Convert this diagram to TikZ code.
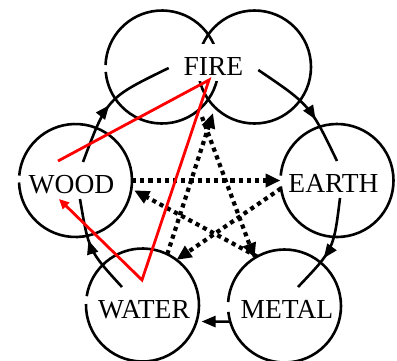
\documentclass[tikz,border=0pt]{standalone}
\usepackage{fontspec}
\setmainfont{Liberation Serif}
\usetikzlibrary{arrows.meta,decorations.markings}
\begin{document}
\tikzset{
  circ/.style={line width=2.6pt},
  cnode/.style={circle, minimum size=113pt, inner sep=0pt, outer sep=0pt, draw=none},
  lbl/.style={font=\fontsize{27.5}{33}\selectfont, anchor=base, text height=31pt, text depth=6pt, inner xsep=15pt, inner ysep=0pt, outer sep=0pt},
  flow/.style={line width=2.6pt},
  midarr/.style={decoration={markings, mark=at position #1 with {\arrow{Triangle[length=14pt,width=11pt]}}}, postaction={decorate}},
  endarr/.style={-{Triangle[length=14pt,width=11pt]}},
  ctrl/.style={line width=4.2pt, dash pattern=on 4.2pt off 4pt, -{Triangle[length=15pt,width=13pt]}},
  redarr/.style={draw=red, line width=2.8pt, -{Triangle[length=10pt,width=9pt]}},
}
\begin{tikzpicture}[x=1pt,y=1pt]
\useasboundingbox (0,0) rectangle (397,-360);
% circle nodes (geometry only)
\node[cnode] (cFIREa) at (162,-67) {};
\node[cnode] (cFIREb) at (254.5,-67) {};
\node[cnode] (cWOOD) at (75.5,-180.5) {};
\node[cnode] (cEARTH) at (337,-180.5) {};
\node[cnode] (cWATER) at (142.5,-305) {};
\node[cnode] (cMETAL) at (284.5,-306) {};
% circles with small gaps at the left
\draw[circ] ([shift={(185:56.5)}]cFIREa.center) arc[start angle=185, end angle=538, radius=56.5];
\draw[circ] (cFIREb.center) circle[radius=56.5];
\draw[circ] ([shift={(182:56.5)}]cWOOD.center) arc[start angle=182, end angle=535, radius=56.5];
\draw[circ] ([shift={(186:56.5)}]cEARTH.center) arc[start angle=186, end angle=535, radius=56.5];
\draw[circ] ([shift={(179:56.5)}]cWATER.center) arc[start angle=179, end angle=531, radius=56.5];
\draw[circ] ([shift={(186:56.5)}]cMETAL.center) arc[start angle=186, end angle=536, radius=56.5];
% labels
\node[lbl, fill=white] (FIRE) at (213.5,-75) {FIRE};
\node[lbl] (WOOD) at (71.5,-193) {WOOD};
\node[lbl] (EARTH) at (333.5,-192) {EARTH};
\node[lbl] (WATER) at (144,-318) {WATER};
\node[lbl] (METAL) at (287,-318) {METAL};
% generating cycle (solid)
\draw[flow, midarr=0.47] ([xshift=11.5pt]WOOD.north) .. controls (107,-98) .. ([yshift=-5.5pt]FIRE.west);
\draw[flow, midarr=0.62] ([yshift=-7.5pt]FIRE.east) .. controls (310,-105) .. ([xshift=3.5pt]EARTH.north);
\draw[flow, midarr=0.62] ([xshift=6.5pt]EARTH.south) .. controls (333.7,-249.5) .. ([xshift=11pt]METAL.north);
\draw[flow, endarr] (cMETAL.196) -- ([xshift=5pt]cWATER.-17);
\draw[flow, midarr=0.58] ([xshift=-22pt]WATER.north) .. controls (88.7,-250.6) .. ([xshift=8.5pt]WOOD.south);
% controlling cycle (dotted)
\coordinate (fb1) at (213,-113);
\coordinate (fb2) at (202,-117);
\draw[ctrl] (cWOOD.0) -- (cEARTH.180);
\draw[ctrl] (cEARTH.188) -- (cWATER.53);
\draw[ctrl] (cWATER.64) -- (fb1);
\draw[ctrl] (fb2) -- (cMETAL.122);
\draw[ctrl] (cMETAL.119) -- ([xshift=3pt]cWOOD.-10);
% red path
\coordinate (r1) at (58,-161);
\coordinate (r2) at (209,-80);
\coordinate (r3) at (142,-280);
\coordinate (r4) at (59,-199);
\draw[redarr] (r1) -- (r2) -- (r3) -- (r4);
\end{tikzpicture}
\end{document}
